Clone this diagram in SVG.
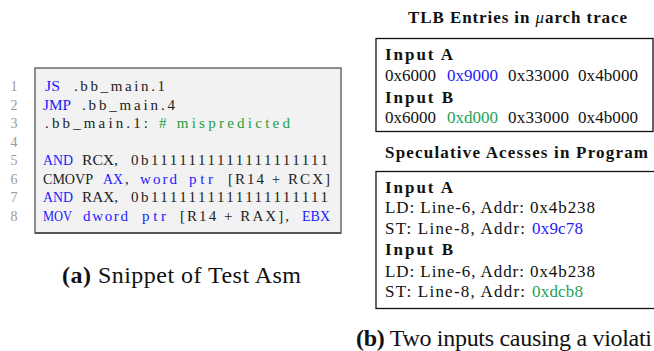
<svg xmlns="http://www.w3.org/2000/svg" width="654" height="351" viewBox="0 0 654 351">
  <style>
    .code { font-family: "Liberation Serif", "DejaVu Serif", serif; font-size: 15px; fill: #222; }
    .ln { font-family: "Liberation Serif", serif; font-size: 14px; fill: #999; text-anchor: middle; }
    .kw { fill: #1a1aff; }
    .cm { fill: #23a040; }
    .t { font-family: "Liberation Serif", "DejaVu Serif", serif; font-size: 17px; fill: #111; }
    .b { font-weight: bold; }
    .blue { fill: #1a1aff; }
    .green { fill: #1ea25a; }
    .cap { font-family: "Liberation Serif", "DejaVu Serif", serif; font-size: 24px; fill: #111; }
    .box { fill: #ffffff; stroke: #111; stroke-width: 1.3; }
  </style>

  <g id="code-listing">
    <rect x="35" y="68" width="306" height="165" fill="#f2f2f2" stroke="#555" stroke-width="1.3"/>
    <line x1="35" y1="233" x2="341" y2="233" stroke="#555" stroke-width="2"/>
    <g id="line-numbers">
      <text class="ln" x="14" y="91">1</text>
      <text class="ln" x="14" y="109.5">2</text>
      <text class="ln" x="14" y="128">3</text>
      <text class="ln" x="14" y="146.5">4</text>
      <text class="ln" x="14" y="165">5</text>
      <text class="ln" x="14" y="183.5">6</text>
      <text class="ln" x="14" y="202">7</text>
      <text class="ln" x="14" y="220.5">8</text>
    </g>
    <text class="code" y="91"><tspan class="kw" x="45" textLength="15" lengthAdjust="spacingAndGlyphs">JS</tspan><tspan x="74" textLength="91" lengthAdjust="spacing">.bb_main.1</tspan></text>
    <text class="code" y="109.5"><tspan class="kw" x="43" textLength="28" lengthAdjust="spacingAndGlyphs">JMP</tspan><tspan x="82" textLength="93" lengthAdjust="spacing">.bb_main.4</tspan></text>
    <text class="code" y="128"><tspan x="45" textLength="103" lengthAdjust="spacing">.bb_main.1:</tspan><tspan class="cm" x="159" textLength="131" lengthAdjust="spacing"># mispredicted</tspan></text>
    <text class="code" y="165"><tspan class="kw" x="43" textLength="30" lengthAdjust="spacingAndGlyphs">AND</tspan><tspan x="82" textLength="36" lengthAdjust="spacingAndGlyphs">RCX,</tspan><tspan x="131" textLength="197" lengthAdjust="spacing">0b1111111111111111111</tspan></text>
    <text class="code" y="183.5"><tspan x="43" textLength="50" lengthAdjust="spacingAndGlyphs">CMOVP</tspan><tspan class="kw" x="103" textLength="20" lengthAdjust="spacingAndGlyphs">AX</tspan><tspan x="125">,</tspan><tspan class="kw" x="140" textLength="37" lengthAdjust="spacing">word</tspan><tspan class="kw" x="189" textLength="24" lengthAdjust="spacing">ptr</tspan><tspan x="228" textLength="102" lengthAdjust="spacing">[R14 + RCX]</tspan></text>
    <text class="code" y="202"><tspan class="kw" x="43" textLength="30" lengthAdjust="spacingAndGlyphs">AND</tspan><tspan x="82" textLength="36" lengthAdjust="spacingAndGlyphs">RAX,</tspan><tspan x="131" textLength="197" lengthAdjust="spacing">0b1111111111111111111</tspan></text>
    <text class="code" y="220.5"><tspan class="kw" x="43" textLength="29" lengthAdjust="spacingAndGlyphs">MOV</tspan><tspan class="kw" x="83" textLength="45" lengthAdjust="spacing">dword</tspan><tspan class="kw" x="142" textLength="24" lengthAdjust="spacing">ptr</tspan><tspan x="180" textLength="109" lengthAdjust="spacing">[R14 + RAX],</tspan><tspan class="kw" x="302" textLength="28" lengthAdjust="spacingAndGlyphs">EBX</tspan></text>
  </g>

  <g id="caption-a">
    <text class="cap" x="62" y="283" textLength="239" lengthAdjust="spacing"><tspan class="b">(a)</tspan> Snippet of Test Asm</text>
  </g>

  <g id="tlb-entries">
    <text class="t b" x="408" y="23" textLength="219" lengthAdjust="spacing">TLB Entries in <tspan font-style="italic" font-weight="normal">μ</tspan>arch trace</text>
    <rect class="box" x="376" y="38.5" width="277" height="93"/>
    <text class="t b" x="385" y="60" textLength="68" lengthAdjust="spacing">Input  A</text>
    <text class="t" y="81"><tspan x="385" textLength="51" lengthAdjust="spacing">0x6000</tspan><tspan class="blue" x="447" textLength="51" lengthAdjust="spacing">0x9000</tspan><tspan x="508" textLength="61" lengthAdjust="spacing">0x33000</tspan><tspan x="578" textLength="60" lengthAdjust="spacing">0x4b000</tspan></text>
    <text class="t b" x="385" y="102.5" textLength="68" lengthAdjust="spacing">Input  B</text>
    <text class="t" y="123"><tspan x="385" textLength="51" lengthAdjust="spacing">0x6000</tspan><tspan class="green" x="447" textLength="51" lengthAdjust="spacing">0xd000</tspan><tspan x="508" textLength="61" lengthAdjust="spacing">0x33000</tspan><tspan x="578" textLength="60" lengthAdjust="spacing">0x4b000</tspan></text>
  </g>

  <g id="speculative-accesses">
    <text class="t b" x="385" y="157.5" textLength="263" lengthAdjust="spacing">Speculative Acesses in Program</text>
    <rect class="box" x="376" y="171.5" width="300" height="137"/>
    <text class="t b" x="385" y="192.7" textLength="68" lengthAdjust="spacing">Input  A</text>
    <text class="t" x="385" y="213" textLength="210" lengthAdjust="spacing">LD:  Line-6,  Addr:  0x4b238</text>
    <text class="t" y="234.3"><tspan x="385" textLength="140" lengthAdjust="spacing">ST:  Line-8,  Addr:</tspan><tspan class="blue" x="532" textLength="51" lengthAdjust="spacing">0x9c78</tspan></text>
    <text class="t b" x="385" y="255" textLength="68" lengthAdjust="spacing">Input  B</text>
    <text class="t" x="385" y="276.5" textLength="210" lengthAdjust="spacing">LD:  Line-6,  Addr:  0x4b238</text>
    <text class="t" y="297.3"><tspan x="385" textLength="140" lengthAdjust="spacing">ST:  Line-8,  Addr:</tspan><tspan class="green" x="532" textLength="51" lengthAdjust="spacing">0xdcb8</tspan></text>
  </g>

  <g id="caption-b">
    <text class="cap" x="356" y="346" textLength="296" lengthAdjust="spacing"><tspan class="b">(b)</tspan> Two inputs causing a violati</text>
  </g>
</svg>
